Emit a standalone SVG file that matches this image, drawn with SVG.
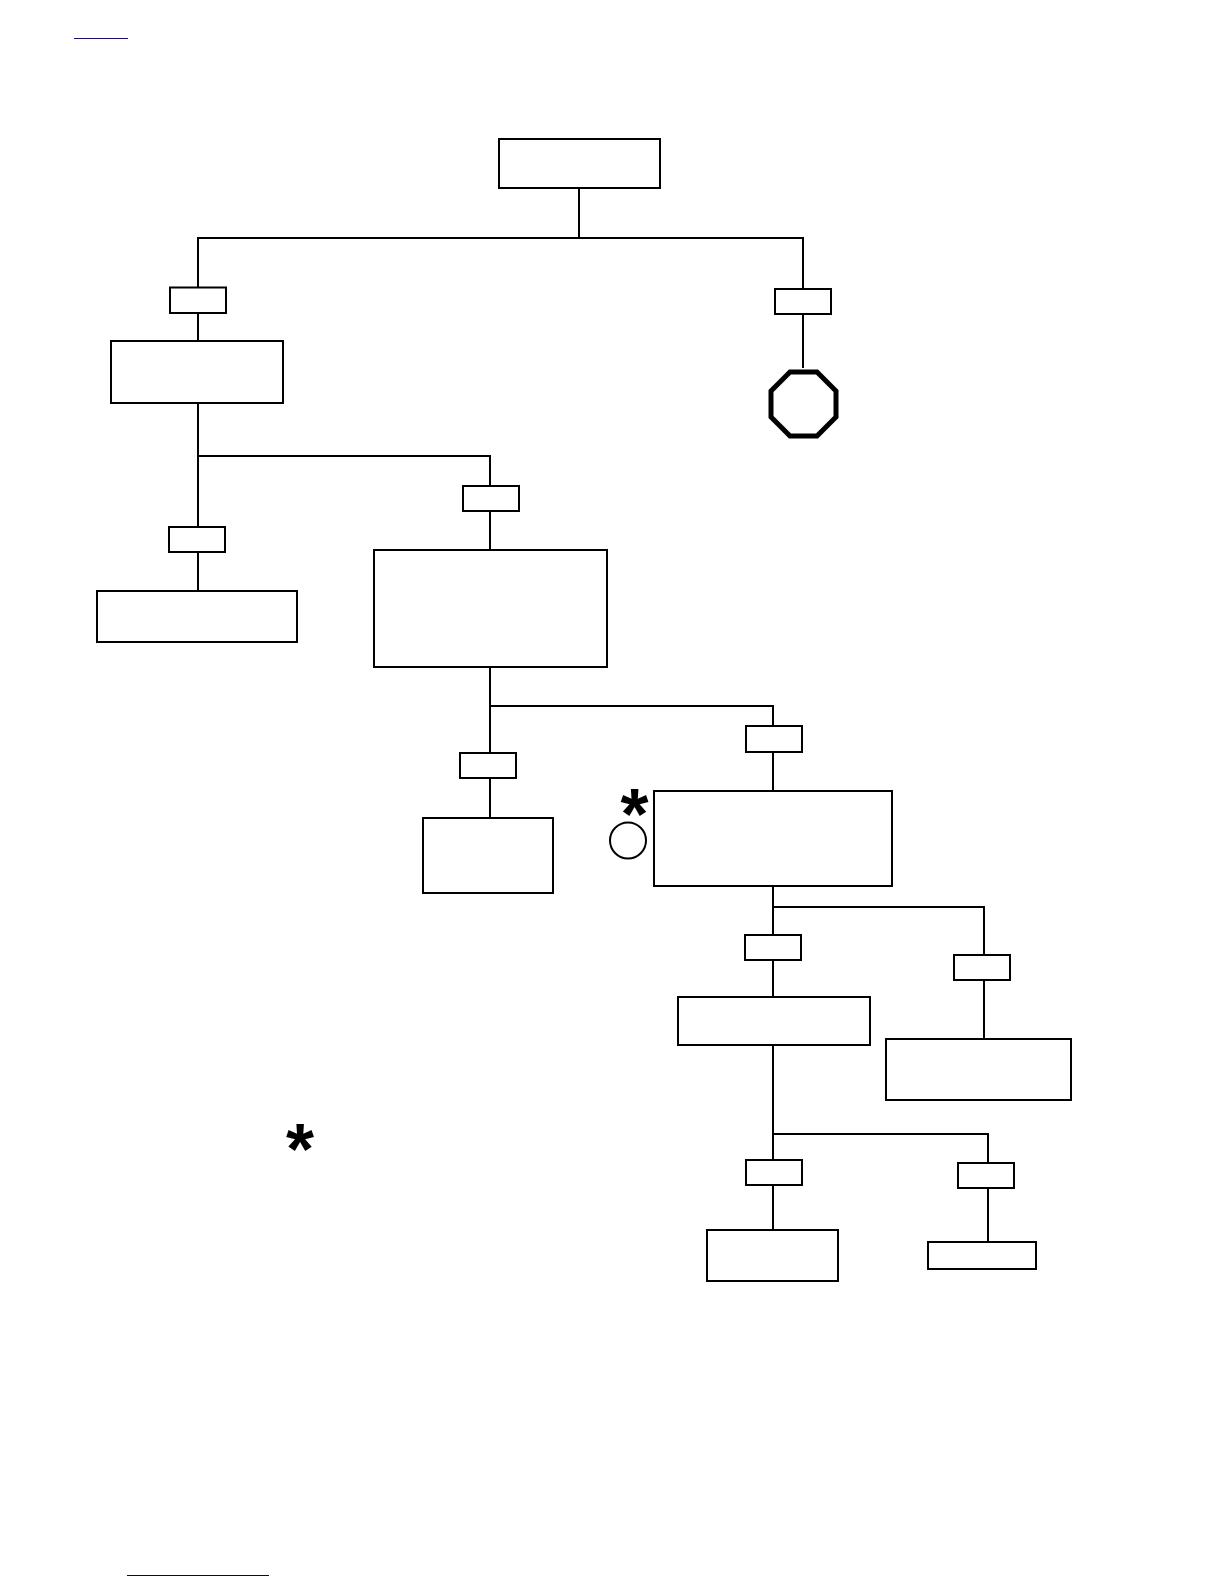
<svg xmlns="http://www.w3.org/2000/svg" width="1224" height="1584" viewBox="0 0 1224 1584">
<style>
.n{fill:#fff;stroke:#000;stroke-width:2}
.c{fill:none;stroke:#000;stroke-width:2}
.a{font-family:"Liberation Sans",Arial,sans-serif;font-weight:700;font-size:72px;text-anchor:middle;fill:#000}
</style>
<rect width="1224" height="1584" fill="#fff"/>
<line x1="74" y1="38.500" x2="128" y2="38.500" stroke="#1c1070" stroke-width="1"/>
<line x1="127" y1="1575.500" x2="269" y2="1575.500" stroke="#00007a" stroke-width="1"/>
<g id="connectors">
<path class="c" d="M579 188V238M198 287V238H803V289M198 313V341M803 314V368"/>
<path class="c" d="M198 403V527M198 552V591M198 456H490V486M490 511V550"/>
<path class="c" d="M490 667V753M490 778V818M490 706H773V726M773 752V791"/>
<path class="c" d="M773 886V935M773 960V997M773 907H984V955M984 980V1039"/>
<path class="c" d="M773 1045V1160M773 1185V1230M773 1134H988V1163M988 1188V1242"/>
</g>
<g id="n1"><rect class="n" x="499" y="139" width="161" height="49"/></g>
<g id="n2"><rect class="n" x="170" y="287.500" width="56" height="25.500"/></g>
<g id="n3"><rect class="n" x="775" y="289" width="56" height="25"/></g>
<g id="n4"><rect class="n" x="111" y="341" width="172" height="62"/></g>
<g id="n5"><path fill="#fff" stroke="#000" stroke-width="5" d="M790 372H817L836 391V417L817 436H790L771 417V391Z"/></g>
<g id="n6"><rect class="n" x="463" y="486" width="56" height="25"/></g>
<g id="n7"><rect class="n" x="169" y="527" width="56" height="25"/></g>
<g id="n8"><rect class="n" x="97" y="591" width="200" height="51"/></g>
<g id="n9"><rect class="n" x="374" y="550" width="233" height="117"/></g>
<g id="n10"><rect class="n" x="746" y="726" width="56" height="26"/></g>
<g id="n11"><rect class="n" x="460" y="753" width="56" height="25"/></g>
<g id="n12"><rect class="n" x="423" y="818" width="130" height="75"/></g>
<g id="n13"><rect class="n" x="654" y="791" width="238" height="95"/></g>
<g id="n14"><circle class="n" cx="628" cy="840.500" r="18"/></g>
<g id="n15"><text class="a" x="634.500" y="839">*</text></g>
<g id="n16"><text class="a" x="300" y="1174">*</text></g>
<g id="n17"><rect class="n" x="745" y="935" width="56" height="25"/></g>
<g id="n18"><rect class="n" x="954" y="955" width="56" height="25"/></g>
<g id="n19"><rect class="n" x="678" y="997" width="192" height="48"/></g>
<g id="n20"><rect class="n" x="886" y="1039" width="185" height="61"/></g>
<g id="n21"><rect class="n" x="746" y="1160" width="56" height="25"/></g>
<g id="n22"><rect class="n" x="958" y="1163" width="56" height="25"/></g>
<g id="n23"><rect class="n" x="707" y="1230" width="131" height="51"/></g>
<g id="n24"><rect class="n" x="928" y="1242" width="108" height="27"/></g>
</svg>
